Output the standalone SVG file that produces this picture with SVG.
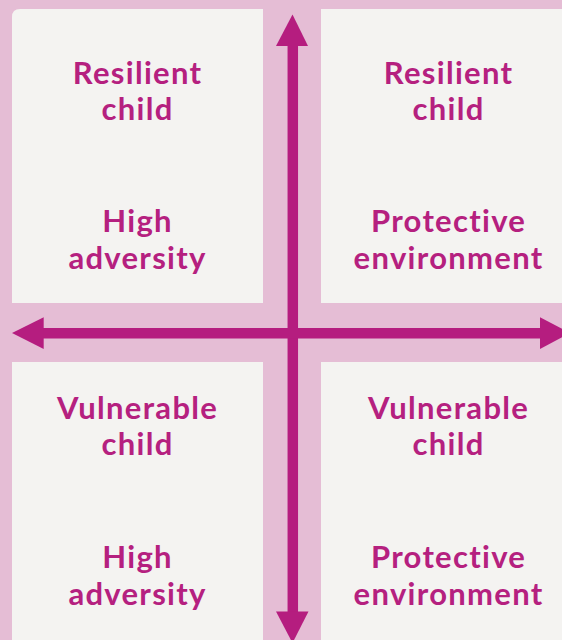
<svg xmlns="http://www.w3.org/2000/svg" width="562" height="640" viewBox="0 0 562 640">
  <style>
    .panel { fill: #f4f3f1; }
    .label { font-family: Lato, "Open Sans", "Liberation Sans", sans-serif; font-weight: 700; font-size: 31px; letter-spacing: 1.3px; font-variant-ligatures: none; fill: #b5207f; text-anchor: middle; }
    .axis { stroke: #b51d7f; stroke-width: 10.5; fill: none; }
    .head { fill: #b51d7f; }
  </style>
  <rect x="0" y="0" width="562" height="640" fill="#e5bdd5"/>

  <g id="top-left">
    <path class="panel" d="M12 17 Q12 9 20 9 H263 V303 H12 Z"/>
    <text class="label" x="137.6" y="84">Resilient</text>
    <text class="label" x="137.6" y="120">child</text>
    <text class="label" x="137.6" y="232">High</text>
    <text class="label" x="137.6" y="269">adversity</text>
  </g>

  <g id="top-right">
    <rect class="panel" x="321" y="9" width="260" height="294"/>
    <text class="label" x="448.6" y="84">Resilient</text>
    <text class="label" x="448.6" y="120">child</text>
    <text class="label" x="448.6" y="232">Protective</text>
    <text class="label" x="448.6" y="269">environment</text>
  </g>

  <g id="bottom-left">
    <rect class="panel" x="12" y="362" width="251" height="290"/>
    <text class="label" x="137.6" y="419">Vulnerable</text>
    <text class="label" x="137.6" y="455">child</text>
    <text class="label" x="137.6" y="568">High</text>
    <text class="label" x="137.6" y="605">adversity</text>
  </g>

  <g id="bottom-right">
    <rect class="panel" x="321" y="362" width="260" height="290"/>
    <text class="label" x="448.6" y="419">Vulnerable</text>
    <text class="label" x="448.6" y="455">child</text>
    <text class="label" x="448.6" y="568">Protective</text>
    <text class="label" x="448.6" y="605">environment</text>
  </g>

  <g id="connectors">
    <line class="axis" x1="292.8" y1="44" x2="292.8" y2="614"/>
    <line class="axis" x1="42" y1="333.2" x2="542" y2="333.2"/>
    <polygon class="head" points="292.5,14.5 276,46 308,46"/>
    <polygon class="head" points="292.5,643 276,611.5 308.5,611.5"/>
    <polygon class="head" points="12,333 43.7,317.3 43.7,349"/>
    <polygon class="head" points="570,333 540,317.3 540,349"/>
  </g>
</svg>
